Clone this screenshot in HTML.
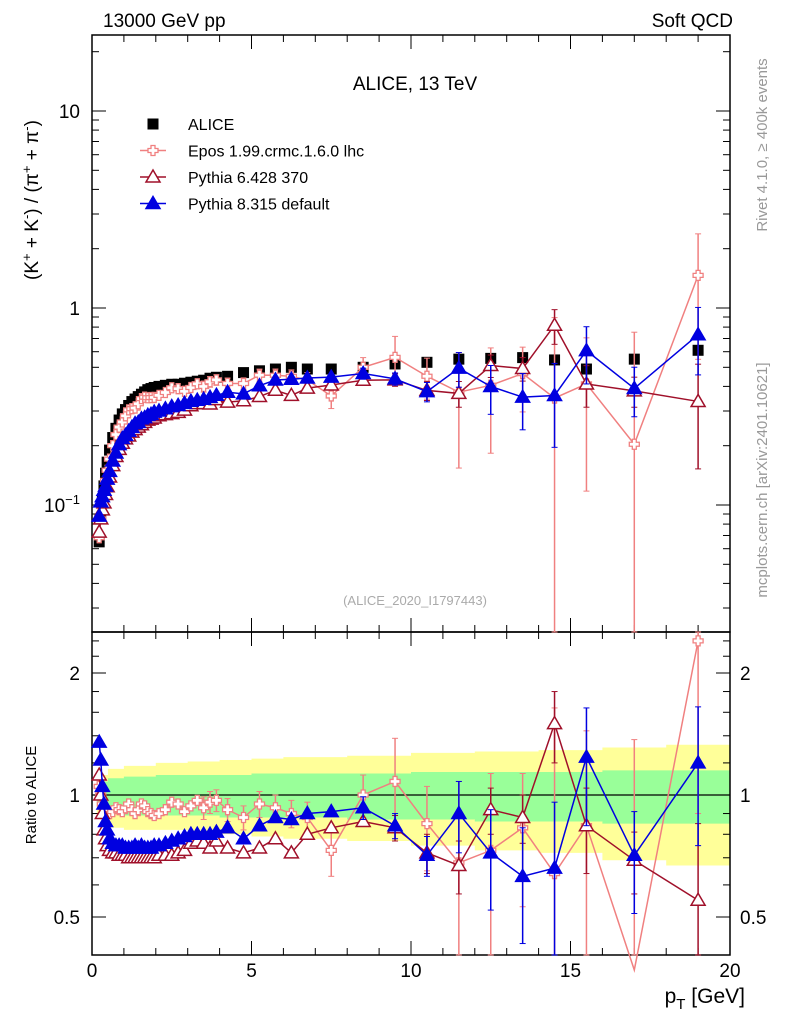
<!DOCTYPE html>
<html><head><meta charset="utf-8"><style>
body{margin:0;background:#fff}
svg{display:block;font-family:"Liberation Sans","DejaVu Sans",sans-serif}
</style></head><body>
<svg id="c" width="786" height="1024" viewBox="0 0 786 1024">
<rect x="0" y="0" width="786" height="1024" fill="#fff"/>
<g id="bands"></g>
<g id="grid"></g>
<g id="series"></g>
<text x="103" y="27" font-size="19">13000 GeV pp</text>
<text x="733" y="27" font-size="19" text-anchor="end">Soft QCD</text>
<text x="415" y="90" font-size="19" text-anchor="middle">ALICE, 13 TeV</text>
<text x="415" y="605" font-size="13" fill="#aaa" text-anchor="middle">(ALICE_2020_I1797443)</text>
<text transform="translate(767,145) rotate(-90)" font-size="15" fill="#999" text-anchor="middle">Rivet 4.1.0, ≥ 400k events</text>
<text transform="translate(767,480) rotate(-90)" font-size="15" fill="#999" text-anchor="middle">mcplots.cern.ch [arXiv:2401.10621]</text>
<text transform="translate(38,200) rotate(-90)" font-size="19" text-anchor="middle">(K<tspan dy="-7" font-size="13">+</tspan><tspan dy="7"> + K</tspan><tspan dy="-7" font-size="13">-</tspan><tspan dy="7">) / (π</tspan><tspan dy="-7" font-size="13">+</tspan><tspan dy="7"> + π</tspan><tspan dy="-7" font-size="13">-</tspan><tspan dy="7">)</tspan></text>
<text transform="translate(36,795) rotate(-90)" font-size="15" text-anchor="middle">Ratio to ALICE</text>
<text x="745" y="1003" font-size="21" text-anchor="end">p<tspan dy="6" font-size="15">T</tspan><tspan dy="-6"> [GeV]</tspan></text>
<g id="legend"></g>
</svg>
<script>
const pt=[0.225,0.275,0.325,0.375,0.425,0.475,0.55,0.65,0.75,0.85,0.95,1.05,1.15,1.25,1.35,1.45,1.55,1.65,1.75,1.85,1.95,2.1,2.3,2.5,2.7,2.9,3.1,3.3,3.5,3.7,3.9,4.25,4.75,5.25,5.75,6.25,6.75,7.5,8.5,9.5,10.5,11.5,12.5,13.5,14.5,15.5,17,19];
const alice=[0.065,0.085,0.105,0.125,0.145,0.165,0.19,0.22,0.245,0.27,0.29,0.305,0.32,0.335,0.345,0.355,0.365,0.375,0.385,0.39,0.395,0.4,0.405,0.41,0.41,0.415,0.42,0.425,0.43,0.44,0.445,0.45,0.47,0.48,0.49,0.5,0.49,0.49,0.5,0.52,0.53,0.55,0.555,0.56,0.545,0.49,0.55,0.61];
const eposRatio=[1.05,1.0,0.95,0.93,0.92,0.91,0.9,0.91,0.93,0.92,0.91,0.93,0.95,0.92,0.9,0.92,0.95,0.94,0.91,0.9,0.89,0.9,0.92,0.96,0.95,0.91,0.94,0.97,0.93,0.96,0.97,0.92,0.88,0.95,0.93,0.9,0.88,0.73,1.0,1.08,0.85,0.68,0.73,0.83,0.64,0.84,0.37,2.4];
const eposErr=[0.04,0.03,0.03,0.03,0.03,0.03,0.03,0.03,0.03,0.03,0.03,0.03,0.03,0.03,0.03,0.03,0.03,0.04,0.04,0.04,0.04,0.04,0.04,0.05,0.05,0.05,0.05,0.05,0.06,0.06,0.06,0.06,0.06,0.07,0.07,0.07,0.08,0.1,0.12,0.3,0.2,0.4,0.4,0.3,1.0,0.6,1.0,1.5];
const py6Ratio=[1.12,1.0,0.9,0.82,0.78,0.75,0.73,0.72,0.72,0.71,0.71,0.71,0.7,0.7,0.7,0.7,0.7,0.7,0.7,0.7,0.7,0.71,0.71,0.71,0.72,0.73,0.76,0.77,0.76,0.74,0.77,0.74,0.72,0.74,0.78,0.72,0.8,0.83,0.86,0.83,0.72,0.67,0.92,0.88,1.5,0.84,0.69,0.55];
const py6Err=[0.03,0.02,0.02,0.02,0.02,0.02,0.02,0.02,0.02,0.02,0.02,0.02,0.02,0.02,0.02,0.02,0.02,0.02,0.02,0.02,0.02,0.02,0.02,0.03,0.03,0.03,0.03,0.03,0.03,0.03,0.03,0.03,0.03,0.03,0.03,0.04,0.04,0.04,0.05,0.06,0.08,0.1,0.12,0.12,0.3,0.2,0.12,0.3];
const py8Ratio=[1.35,1.22,1.05,0.95,0.86,0.82,0.78,0.76,0.75,0.75,0.75,0.74,0.74,0.74,0.75,0.74,0.75,0.74,0.74,0.74,0.75,0.75,0.76,0.77,0.78,0.79,0.8,0.8,0.8,0.8,0.81,0.83,0.78,0.84,0.88,0.87,0.9,0.91,0.93,0.84,0.71,0.9,0.72,0.63,0.66,1.24,0.71,1.2];
const py8Err=[0.03,0.02,0.02,0.02,0.02,0.02,0.02,0.02,0.02,0.02,0.02,0.02,0.02,0.02,0.02,0.02,0.02,0.02,0.02,0.02,0.02,0.02,0.02,0.02,0.02,0.03,0.03,0.03,0.03,0.03,0.03,0.03,0.03,0.04,0.04,0.04,0.04,0.05,0.06,0.06,0.08,0.18,0.2,0.2,0.3,0.4,0.2,0.45];
const bandX=[0.15,0.3,0.5,1,2,3,4,5,6,8,10,12,14,16,18,20];
const yelHi=[1.08,1.12,1.16,1.18,1.2,1.21,1.22,1.23,1.24,1.25,1.27,1.28,1.29,1.31,1.33];
const yelLo=[0.9,0.85,0.83,0.82,0.82,0.81,0.8,0.79,0.78,0.77,0.75,0.73,0.72,0.69,0.67];
const grnHi=[1.05,1.08,1.1,1.11,1.12,1.12,1.12,1.13,1.13,1.13,1.14,1.14,1.14,1.15,1.15];
const grnLo=[0.95,0.92,0.9,0.89,0.89,0.89,0.88,0.88,0.88,0.87,0.87,0.86,0.86,0.85,0.85];

const NS="http://www.w3.org/2000/svg";
const X0=92,X1=730,YT=35,YM=632,YB=955;
const xs=v=>X0+v*(X1-X0)/20;
const ym=v=>308-197*Math.log10(v);
const yr=v=>795-122*Math.log2(v);
function mk(tag,at,parent){const e=document.createElementNS(NS,tag);for(const k in at)e.setAttribute(k,at[k]);parent.appendChild(e);return e;}
const G=document.getElementById('grid'),S=document.getElementById('series'),B=document.getElementById('bands'),L=document.getElementById('legend');

function band(hi,lo){let p='';for(let i=0;i<bandX.length-1;i++){p+=`M${xs(bandX[i])},${yr(hi[i])}H${xs(bandX[i+1])}V${yr(lo[i])}H${xs(bandX[i])}Z`;}return p;}
let e=mk('path',{d:band(yelHi,yelLo),fill:'#ffff99'},B);


e=mk('path',{d:band(grnHi,grnLo),fill:'#99ff99'},B);


mk('line',{x1:X0,x2:X1,y1:795,y2:795,stroke:'#000','stroke-width':1.3},B);

mk('rect',{x:X0,y:YT,width:X1-X0,height:YM-YT,fill:'none',stroke:'#000','stroke-width':1.5},G);
mk('rect',{x:X0,y:YM,width:X1-X0,height:YB-YM,fill:'none',stroke:'#000','stroke-width':1.5},G);
for(let v=0;v<=20;v+=1){const big=v%5==0;const l=big?14:7;const x=xs(v);
 for(const yy of [YM,YB]){mk('line',{x1:x,x2:x,y1:yy,y2:yy-l,stroke:'#000'},G);}
 mk('line',{x1:x,x2:x,y1:YT,y2:YT+l,stroke:'#000'},G);mk('line',{x1:x,x2:x,y1:YM,y2:YM+l,stroke:'#000'},G);
 if(big){const t=mk('text',{x:x,y:977,'font-size':19,'text-anchor':'middle'},G);t.textContent=v;}}
for(let d=-2;d<=1;d++)for(let m=1;m<10;m++){const v=m*Math.pow(10,d);const y=ym(v);if(y<YT||y>YM)continue;const l=m==1?14:7;
 mk('line',{x1:X0,x2:X0+l,y1:y,y2:y,stroke:'#000'},G);mk('line',{x1:X1,x2:X1-l,y1:y,y2:y,stroke:'#000'},G);}
[[10,'10'],[1,'1']].forEach(([v,s])=>{const t=mk('text',{x:80,y:ym(v)+7,'font-size':19,'text-anchor':'end'},G);t.textContent=s;});
{const t=mk('text',{x:80,y:ym(0.1)+7,'font-size':19,'text-anchor':'end'},G);t.innerHTML='10<tspan dy="-8" font-size="13">−1</tspan>';}
for(const v of [0.4,0.5,0.6,0.7,0.8,0.9,1,1.2,1.4,1.6,1.8,2,2.2,2.4]){const y=yr(v);if(y<YM||y>YB)continue;const l=(v==0.5||v==1||v==2)?14:7;
 mk('line',{x1:X0,x2:X0+l,y1:y,y2:y,stroke:'#000'},G);mk('line',{x1:X1,x2:X1-l,y1:y,y2:y,stroke:'#000'},G);}
for(const [v,s] of [[2,'2'],[1,'1'],[0.5,'0.5']]){let t=mk('text',{x:80,y:yr(v)+7,'font-size':19,'text-anchor':'end'},G);t.textContent=s;
 t=mk('text',{x:740,y:yr(v)+7,'font-size':19},G);t.textContent=s;}

function clampR(y){return Math.max(YM,Math.min(YB,y));}
function clampM(y){return Math.max(YT,Math.min(YM,y));}
function marker(kind,col,x,y,p){
 if(kind=='sq'){mk('rect',{x:x-5.5,y:y-5.5,width:11,height:11,fill:'#000'},p);}
 else if(kind=='tri'||kind=='otri'){mk('path',{d:`M${x},${y-7}L${x+7},${y+5}L${x-7},${y+5}Z`,fill:kind=='tri'?col:'#fff',stroke:col,'stroke-width':1.5},p);}
 else {const a=2,b=5;mk('path',{d:`M${x-a},${y-b}H${x+a}V${y-a}H${x+b}V${y+a}H${x+a}V${y+b}H${x-a}V${y+a}H${x-b}V${y-a}H${x-a}Z`,fill:'#fff',stroke:col,'stroke-width':1.3},p);}
}
function drawMC(name,ratio,err,col,kind){
 const g=mk('g',{},S);
 
 
 const vals=ratio.map((r,i)=>r*alice[i]);
 let pm='',pr='';
 pt.forEach((p,i)=>{const x=xs(p);pm+=(i?'L':'M')+x+','+ym(vals[i]);pr+=(i?'L':'M')+x+','+yr(ratio[i]);});
 mk('path',{d:pm,fill:'none',stroke:col,'stroke-width':1.5},g);
 mk('path',{d:pr,fill:'none',stroke:col,'stroke-width':1.5},g);
 pt.forEach((p,i)=>{const x=xs(p);const r=ratio[i],e=err[i];
  if(e>0.05){const lo=Math.max(r-e,0.001),hi=r+e;
   const m1=clampR(yr(hi)),m2=clampR(yr(lo));mk('line',{x1:x,x2:x,y1:m1,y2:m2,stroke:col,'stroke-width':1.5},g);
   mk('line',{x1:x-3,x2:x+3,y1:m1,y2:m1,stroke:col},g);mk('line',{x1:x-3,x2:x+3,y1:m2,y2:m2,stroke:col},g);
   const a1=clampM(ym(hi*alice[i])),a2=clampM(ym(lo*alice[i]));mk('line',{x1:x,x2:x,y1:a1,y2:a2,stroke:col,'stroke-width':1.5},g);
   mk('line',{x1:x-3,x2:x+3,y1:a1,y2:a1,stroke:col},g);mk('line',{x1:x-3,x2:x+3,y1:a2,y2:a2,stroke:col},g);}
  const yy=yr(r);if(yy>=YM&&yy<=YB)marker(kind,col,x,yy,g);
  marker(kind,col,x,ym(vals[i]),g);});
}
{const g=mk('g',{},S);
 
 
 pt.forEach((p,i)=>marker('sq','#000',xs(p),ym(alice[i]),g));}
drawMC('epos-series',eposRatio,eposErr,'#f08080','cross');
drawMC('pythia6-series',py6Ratio,py6Err,'#a0102a','otri');
drawMC('pythia8-series',py8Ratio,py8Err,'#0000e0','tri');

const leg=[['ALICE','#000','sq'],['Epos 1.99.crmc.1.6.0 lhc','#f08080','cross'],['Pythia 6.428 370','#a0102a','otri'],['Pythia 8.315 default','#0000e0','tri']];
leg.forEach((l,i)=>{const y=124+i*26.5;const g=mk('g',{},L);
 
 
 if(i>0)mk('line',{x1:140,x2:166,y1:y,y2:y,stroke:l[1],'stroke-width':1.5},g);
 marker(l[2],l[1],153,y,g);
 const t=mk('text',{x:188,y:y+6,'font-size':16},g);t.textContent=l[0];});
</script>
</body></html>
